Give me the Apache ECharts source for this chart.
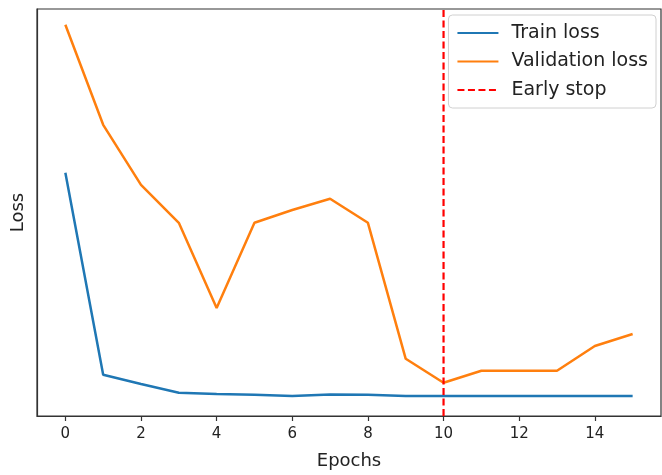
<!DOCTYPE html>
<html>
<head>
<meta charset="utf-8">
<script src="https://cdn.jsdelivr.net/npm/echarts@6/dist/echarts.min.js"></script>
<style>html,body{margin:0;padding:0;background:#fff;}#c{width:662px;height:475px;}</style>
</head>
<body>
<div id="c"></div>
<script>
const epochs = [0,1,2,3,4,5,6,7,8,9,10,11,12,13,14,15];
const trainLoss = [0.608,0.103,0.080,0.058,0.055,0.053,0.050,0.054,0.053,0.050,0.050,0.050,0.050,0.050,0.050,0.050];
const valLoss = [0.978,0.728,0.578,0.483,0.270,0.483,0.515,0.543,0.483,0.143,0.083,0.113,0.113,0.113,0.175,0.205];
const earlyStopEpoch = 10;
const xTicks = [0,2,4,6,8,10,12,14];
const yMin = 0, yMax = 1.0175;

const chart = echarts.init(document.getElementById('c'));
const font = 'DejaVu Sans';
chart.setOption({
  animation: false,
  textStyle: { fontFamily: font },
  grid: { left: 37, top: 9, right: 1, bottom: 58, show: true, borderColor: '#333', borderWidth: 1.2, backgroundColor: 'transparent' },
  legend: {
    orient: 'vertical', right: 6, top: 15,
    data: ['Train loss','Validation loss','Early stop'],
    itemWidth: 41, itemHeight: 14, itemGap: 8.5,
    padding: [8, 8, 8, 8],
    borderColor: '#d0d0d0', borderWidth: 1, borderRadius: 4,
    backgroundColor: '#fff',
    itemStyle: { opacity: 0 },
    textStyle: { fontFamily: font, fontSize: 19, lineHeight: 20, color: '#222', padding: [0,0,0,8] }
  },
  xAxis: {
    type: 'value', min: -0.75, max: 15.75,
    name: 'Epochs', nameLocation: 'middle', nameGap: 36,
    nameTextStyle: { fontFamily: font, fontSize: 18, color: '#222' },
    axisLine: { show: true, onZero: false, lineStyle: { color: '#333', width: 1.2 } },
    axisTick: { show: true, customValues: xTicks, length: 5, lineStyle: { color: '#333', width: 1.2 } },
    axisLabel: { customValues: xTicks, fontFamily: font, fontSize: 15, color: '#222', margin: 11 },
    splitLine: { show: false }
  },
  yAxis: {
    type: 'value', min: yMin, max: yMax,
    name: 'Loss', nameLocation: 'middle', nameGap: 10, nameRotate: 90,
    nameTextStyle: { fontFamily: font, fontSize: 18, color: '#222' },
    axisLine: { show: true, onZero: false, lineStyle: { color: '#333', width: 1.2 } },
    axisTick: { show: false }, axisLabel: { show: false }, splitLine: { show: false }
  },
  series: [
    { name: 'Train loss', type: 'line', symbol: 'none', data: epochs.map((e,i)=>[e,trainLoss[i]]),
      lineStyle: { color: '#1f77b4', width: 2.5 }, itemStyle: { color: '#1f77b4' }, z: 3 },
    { name: 'Validation loss', type: 'line', symbol: 'none', data: epochs.map((e,i)=>[e,valLoss[i]]),
      lineStyle: { color: '#ff7f0e', width: 2.5 }, itemStyle: { color: '#ff7f0e' }, z: 2 },
    { name: 'Early stop', type: 'line', symbol: 'none', data: [[earlyStopEpoch,yMin],[earlyStopEpoch,yMax]],
      lineStyle: { color: '#ff0000', width: 2.2, type: [7,3.5] }, itemStyle: { color: '#ff0000' }, z: 4 }
  ]
});
</script>
</body>
</html>
